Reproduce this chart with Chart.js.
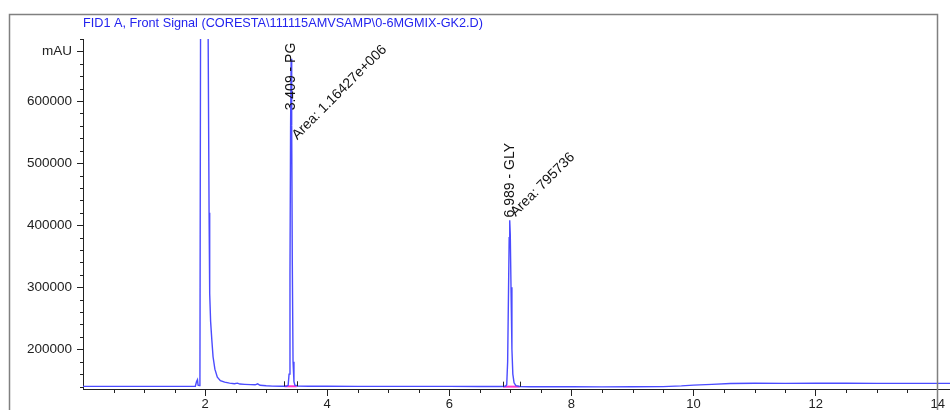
<!DOCTYPE html>
<html>
<head>
<meta charset="utf-8">
<script src="https://cdn.jsdelivr.net/npm/chart.js@4"></script>
<style>
  body { margin: 0; background: #fff; }
  canvas { display: block; }
</style>
</head>
<body>
<canvas id="chart" width="950" height="410"></canvas>
<script>
// FID1 A trace (time in min, signal in mAU)
const timeMin = [
  0.00, 0.50, 1.00, 1.30, 1.60, 1.84, 1.86, 1.875, 1.885, 1.905,
  1.915, 1.925, 1.95, 1.99, 2.03, 2.05, 2.065, 2.075, 2.09, 2.11,
  2.13, 2.16, 2.20, 2.25, 2.32, 2.40, 2.48, 2.53, 2.57, 2.65,
  2.75, 2.82, 2.86, 2.90, 3.00, 3.10, 3.25, 3.33, 3.36, 3.375,
  3.39, 3.40, 3.409, 3.418, 3.428, 3.44, 3.455, 3.47, 3.52, 3.70,
  4.00, 4.50, 5.00, 5.50, 6.00, 6.50, 6.85, 6.92, 6.94, 6.955,
  6.97, 6.98, 6.989, 6.998, 7.01, 7.025, 7.04, 7.06, 7.09, 7.15,
  7.30, 7.60, 8.00, 8.50, 9.00, 9.50, 9.80, 10.0, 10.3, 10.6,
  11.0, 11.5, 12.0, 12.5, 13.0, 13.5, 14.0, 14.2
];
const signal = [
  140300, 140300, 140300, 140200, 140300, 140500, 148000, 151000, 142000, 141500,
  148000, 700000, 2500000, 3200000, 2000000, 700000, 420000, 290000, 245000, 215000,
  188000, 168000, 155000, 149500, 147000, 145500, 144500, 145500, 144000, 143500,
  143000, 142800, 144300, 142000, 141200, 140700, 140400, 140400, 142000, 160000,
  320000, 560000, 668000, 560000, 340000, 180000, 148000, 142000, 140800, 140500,
  140400, 140300, 140300, 140200, 140200, 140100, 140000, 140500, 143000, 180000,
  300000, 380000, 408000, 385000, 300000, 200000, 160000, 146000, 141500, 140000,
  139700, 139600, 139600, 139500, 139600, 139900, 141000, 142200, 143500, 144800,
  145200, 145100, 145300, 145200, 145000, 145100, 145100, 145100
];

// integrated peaks
const peakTime = [3.409, 6.989];
const peakName = ['PG', 'GLY'];
const peakArea = ['1.16427e+006', '795736'];
const peakStart = [3.30, 6.88];
const peakEnd = [3.50, 7.15];
const peakBase = [140400, 139800];
// annotation anchors (signal value where the labels begin)
const nameAt = [585000, 412500];
const areaAt = [537000, 413000];

const xTicks = [2, 4, 6, 8, 10, 12, 14];
const yTicks = [200000, 300000, 400000, 500000, 600000, 680000];

const titleText = 'FID1 A, Front Signal (CORESTA\\111115AMVSAMP\\0-6MGMIX-GK2.D)';
const fontFamily = '"Liberation Sans", Arial, sans-serif';

const traceData = timeMin.map((t, i) => ({ x: t, y: signal[i] }));
const baselineSets = peakStart.map((s, i) => ({
    data: [{ x: s, y: peakBase[i] }, { x: peakEnd[i], y: peakBase[i] }],
    borderColor: '#ff33cc',
    borderWidth: 2,
    pointRadius: 0,
    order: 2
}));

const decorPlugin = {
    id: 'decor',
    beforeDraw(chart) {
        const ctx = chart.ctx;
        ctx.save();
        ctx.fillStyle = '#fff';
        ctx.fillRect(0, 0, chart.width, chart.height);
        ctx.restore();
    },
    afterDraw(chart) {
        const ctx = chart.ctx;
        const xs = chart.scales.x, ys = chart.scales.y;
        const area = chart.chartArea;
        ctx.save();

        // outer frame
        ctx.strokeStyle = '#808080';
        ctx.lineWidth = 1.5;
        ctx.beginPath();
        ctx.moveTo(9.5, 420);
        ctx.lineTo(9.5, 14.5);
        ctx.lineTo(937.5, 14.5);
        ctx.lineTo(937.5, 420);
        ctx.stroke();

        // title
        ctx.fillStyle = '#2323ee';
        ctx.font = '12.7px ' + fontFamily;
        ctx.textBaseline = 'middle';
        ctx.textAlign = 'left';
        ctx.fillText(titleText, 83, 23);

        // minor ticks
        ctx.strokeStyle = '#222';
        ctx.lineWidth = 1;
        ctx.beginPath();
        for (let v = 0.5; v <= xs.max; v += 0.5) {
            if (v % 2 === 0) continue;
            const px = Math.round(xs.getPixelForValue(v)) + 0.5;
            ctx.moveTo(px, area.bottom);
            ctx.lineTo(px, area.bottom + 4);
        }
        for (let v = 140000; v <= ys.max; v += 20000) {
            if (yTicks.includes(v)) continue;
            const py = Math.round(ys.getPixelForValue(v)) + 0.5;
            ctx.moveTo(area.left - 3, py);
            ctx.lineTo(area.left, py);
        }
        ctx.stroke();

        // peak start / end markers
        ctx.beginPath();
        peakStart.forEach((s, i) => {
            const py = ys.getPixelForValue(peakBase[i]);
            [s, peakEnd[i]].forEach(t => {
                const px = Math.round(xs.getPixelForValue(t)) + 0.5;
                ctx.moveTo(px, py - 5);
                ctx.lineTo(px, py);
            });
        });
        ctx.stroke();

        // peak labels
        ctx.fillStyle = '#111';
        ctx.font = '14px ' + fontFamily;
        peakTime.forEach((t, i) => {
            const px = xs.getPixelForValue(t);
            ctx.save();
            ctx.translate(px, ys.getPixelForValue(nameAt[i]));
            ctx.rotate(-Math.PI / 2);
            ctx.textAlign = 'left';
            ctx.textBaseline = 'middle';
            ctx.fillText(t.toFixed(3) + ' - ' + peakName[i], 0, 0);
            ctx.restore();

            ctx.save();
            ctx.translate(px + 6, ys.getPixelForValue(areaAt[i]));
            ctx.rotate(-Math.PI / 4);
            ctx.textAlign = 'left';
            ctx.textBaseline = 'alphabetic';
            ctx.fillText('Area: ' + peakArea[i], 0, 0);
            ctx.restore();
        });
        ctx.restore();
    }
};

new Chart(document.getElementById('chart'), {
    type: 'line',
    data: {
        datasets: [
            {
                data: traceData,
                borderColor: '#4b4bff',
                borderWidth: 1.4,
                pointRadius: 0,
                tension: 0,
                order: 1
            },
            ...baselineSets
        ]
    },
    options: {
        responsive: false,
        devicePixelRatio: 1,
        animation: false,
        layout: { padding: { top: 39, left: 0, right: 0, bottom: 0 } },
        plugins: {
            legend: { display: false },
            title: { display: false },
            tooltip: { enabled: false }
        },
        scales: {
            x: {
                type: 'linear',
                min: 0,
                max: 14.2,
                afterBuildTicks(scale) { scale.ticks = xTicks.map(v => ({ value: v })); },
                afterFit(scale) { scale.height = 21; },
                grid: { drawOnChartArea: false, drawTicks: true, tickLength: 7, tickColor: '#222' },
                border: { color: '#222', width: 1 },
                ticks: {
                    color: '#222',
                    padding: 1,
                    maxRotation: 0,
                    font: { family: fontFamily, size: 13 },
                    callback: v => String(v)
                }
            },
            y: {
                type: 'linear',
                min: 136000,
                max: 700000,
                afterBuildTicks(scale) { scale.ticks = yTicks.map(v => ({ value: v })); },
                afterFit(scale) { scale.width = 83; },
                grid: { drawOnChartArea: false, drawTicks: true, tickLength: 6, tickColor: '#222' },
                border: { color: '#222', width: 1 },
                ticks: {
                    color: '#222',
                    padding: 5,
                    font: { family: fontFamily, size: 13.5 },
                    callback: v => v === 680000 ? 'mAU' : String(v)
                }
            }
        }
    },
    plugins: [decorPlugin]
});
</script>
</body>
</html>
